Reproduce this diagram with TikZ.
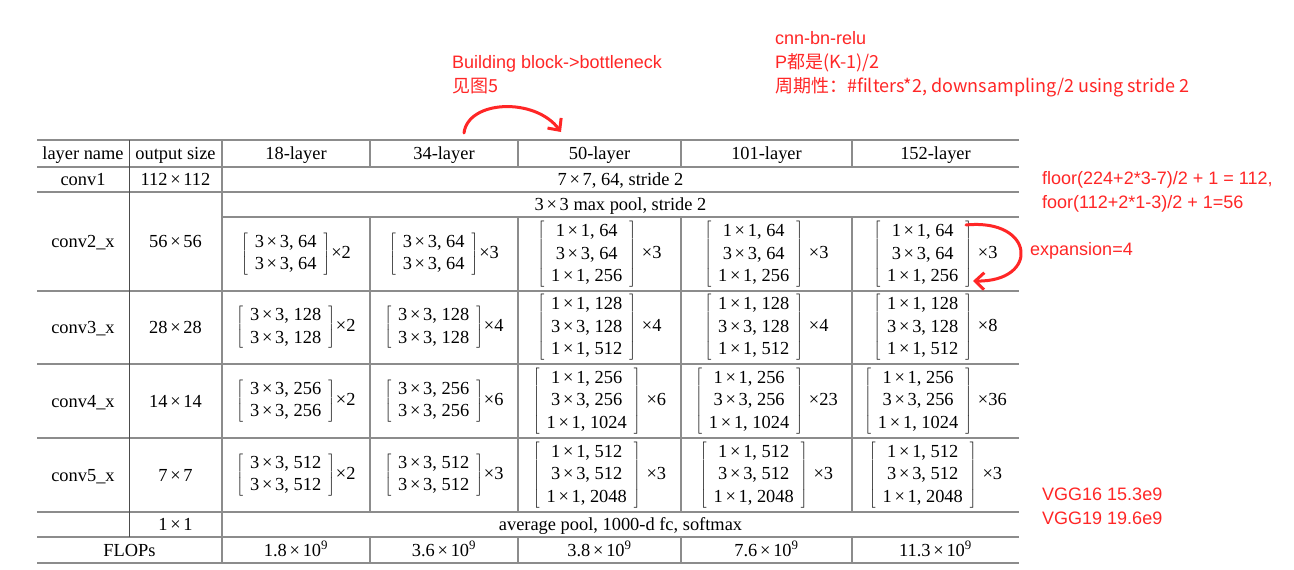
\documentclass[tikz,border=0pt]{standalone}
\usepackage{fontspec}
\setmainfont{Liberation Serif}
\newfontfamily\annosans{Liberation Sans}
\newfontfamily\cjk{Noto Sans CJK SC}
\usetikzlibrary{arrows.meta}
\definecolor{anno}{RGB}{255,38,38}
\definecolor{rulegray}{RGB}{140,140,140}
\newcommand{\X}{\hspace{0.15em}×\hspace{0.15em}}
\newcommand{\tfont}{\fontsize{18.4}{22.5}\selectfont}
% bracketed block followed by its multiplier
\newcommand{\brk}[3]{$\left[\begin{tabular}{@{\hspace{7pt}}c@{\hspace{7pt}}}#1\end{tabular}\right]$\hspace{#3}×#2}
\newcommand{\twoR}[2]{\brk{3\X3, #1\\3\X3, #1}{#2}{1pt}}
\newcommand{\threeR}[3]{\brk{1\X1, #1\\3\X3, #1\\1\X1, #2}{#3}{6pt}}
\tikzset{
  tx/.style={font=\tfont, inner sep=0pt, text height=12pt, text depth=0pt, anchor=center},
  bx/.style={font=\tfont, inner sep=0pt, anchor=center},
  annot/.style={font=\annosans\fontsize{18}{22}\selectfont, text=anno, inner sep=0pt, anchor=base west},
  hl/.style={draw=rulegray, line width=1.4pt},
  vl/.style={draw=rulegray, line width=1.4pt},
  dv/.style={draw=black!70, line width=0.9pt},
  redarrow/.style={draw=anno, line width=3pt, line cap=round, -{Straight Barb[length=9pt,width=17pt,line width=3pt]}}
}
\begin{document}
\begin{tikzpicture}[x=1pt,y=-1pt]
\fill[white] (0,0) rectangle (1294,570);
\useasboundingbox (0,0) rectangle (1294,570);
% horizontal rules
\foreach \yy in {140,167,192,291,364,438,512,537,563}
  \draw[hl] (37,\yy) -- (1019,\yy);
\draw[hl] (222,217) -- (1019,217);
% vertical rules
\draw[dv] (129,140) -- (129,537);
\draw[vl] (222,140) -- (222,563);
\foreach \xx in {370,518,681,852}{
  \draw[vl] (\xx,140) -- (\xx,167);
  \draw[vl] (\xx,217) -- (\xx,512);
  \draw[vl] (\xx,537) -- (\xx,563);
}
% header
\node[tx] (h1) at (83,153.5) {layer name};
\node[tx] (h2) at (175.5,153.5) {output size};
\node[tx] (h3) at (296,153.5) {18-layer};
\node[tx] (h4) at (444,153.5) {34-layer};
\node[tx] (h5) at (599.5,153.5) {50-layer};
\node[tx] (h6) at (766.5,153.5) {101-layer};
\node[tx] (h7) at (935.5,153.5) {152-layer};
% conv1
\node[tx] (r1a) at (83,179.5) {conv1};
\node[tx] (r1b) at (175.5,179.5) {112\X112};
\node[tx] (r1c) at (620.5,179.5) {7\X7, 64, stride 2};
% conv2
\node[tx] (r2a) at (83,241.5) {conv2\_x};
\node[tx] (r2b) at (175.5,241.5) {56\X56};
\node[tx] (r2m) at (620.5,204.5) {3\X3 max pool, stride 2};
\node[bx] (r2c) at (296,254) {\twoR{64}{2}};
\node[bx] (r2d) at (444,254) {\twoR{64}{3}};
\node[bx] (r2e) at (599.5,254.5) {\threeR{64}{256}{3}};
\node[bx] (r2f) at (766.5,254.5) {\threeR{64}{256}{3}};
\node[bx] (r2g) at (935.5,254.5) {\threeR{64}{256}{3}};
% conv3
\node[tx] (r3a) at (83,327.5) {conv3\_x};
\node[tx] (r3b) at (175.5,327.5) {28\X28};
\node[bx] (r3c) at (296,327.5) {\twoR{128}{2}};
\node[bx] (r3d) at (444,327.5) {\twoR{128}{4}};
\node[bx] (r3e) at (599.5,327.5) {\threeR{128}{512}{4}};
\node[bx] (r3f) at (766.5,327.5) {\threeR{128}{512}{4}};
\node[bx] (r3g) at (935.5,327.5) {\threeR{128}{512}{8}};
% conv4
\node[tx] (r4a) at (83,401) {conv4\_x};
\node[tx] (r4b) at (175.5,401) {14\X14};
\node[bx] (r4c) at (296,401) {\twoR{256}{2}};
\node[bx] (r4d) at (444,401) {\twoR{256}{6}};
\node[bx] (r4e) at (599.5,401) {\threeR{256}{1024}{6}};
\node[bx] (r4f) at (766.5,401) {\threeR{256}{1024}{23}};
\node[bx] (r4g) at (935.5,401) {\threeR{256}{1024}{36}};
% conv5
\node[tx] (r5a) at (83,475) {conv5\_x};
\node[tx] (r5b) at (175.5,475) {7\X7};
\node[bx] (r5c) at (296,475) {\twoR{512}{2}};
\node[bx] (r5d) at (444,475) {\twoR{512}{3}};
\node[bx] (r5e) at (599.5,475) {\threeR{512}{2048}{3}};
\node[bx] (r5f) at (766.5,475) {\threeR{512}{2048}{3}};
\node[bx] (r5g) at (935.5,475) {\threeR{512}{2048}{3}};
% avg pool
\node[tx] (r6b) at (175.5,524.5) {1\X1};
\node[tx] (r6c) at (620.5,524.5) {average pool, 1000-d fc, softmax};
% FLOPs
\node[tx] (r7a) at (129.5,550) {FLOPs};
\node[tx] (r7c) at (296,550) {1.8\X10\textsuperscript{9}};
\node[tx] (r7d) at (444,550) {3.6\X10\textsuperscript{9}};
\node[tx] (r7e) at (599.5,550) {3.8\X10\textsuperscript{9}};
\node[tx] (r7f) at (766.5,550) {7.6\X10\textsuperscript{9}};
\node[tx] (r7g) at (935.5,550) {11.3\X10\textsuperscript{9}};
% annotations
\node[annot] (a1) at (775,44) {cnn-bn-relu};
\node[annot] (a2) at (775,68) {P\cjk{都是}(K-1)/2};
\node[annot] (a3) at (775,92) {\cjk{周期性：}\#filters*2, downsampling/2 using stride 2};
\node[annot] (a4) at (452,68) {Building block->bottleneck};
\node[annot] (a5) at (452,92) {\cjk{见图}5};
\node[annot] (a6) at (1042,184) {floor(224+2*3-7)/2 + 1 = 112,};
\node[annot] (a7) at (1042,208) {foor(112+2*1-3)/2 + 1=56};
\node[annot] (a8) at (1030,255) {expansion=4};
\node[annot] (a9) at (1042,500) {VGG16 15.3e9};
\node[annot] (a10) at (1042,524) {VGG19 19.6e9};
% red arrows
\coordinate (s1) at (464,133);
\coordinate (e1) at (561,132);
\draw[redarrow] (s1) .. controls (468,100) and (535,97) .. (e1);
\coordinate (s2) at (966,225);
\coordinate (e2) at (973,281);
\draw[redarrow] (s2) .. controls (1035,218) and (1040,282) .. (e2);
\end{tikzpicture}
\end{document}
